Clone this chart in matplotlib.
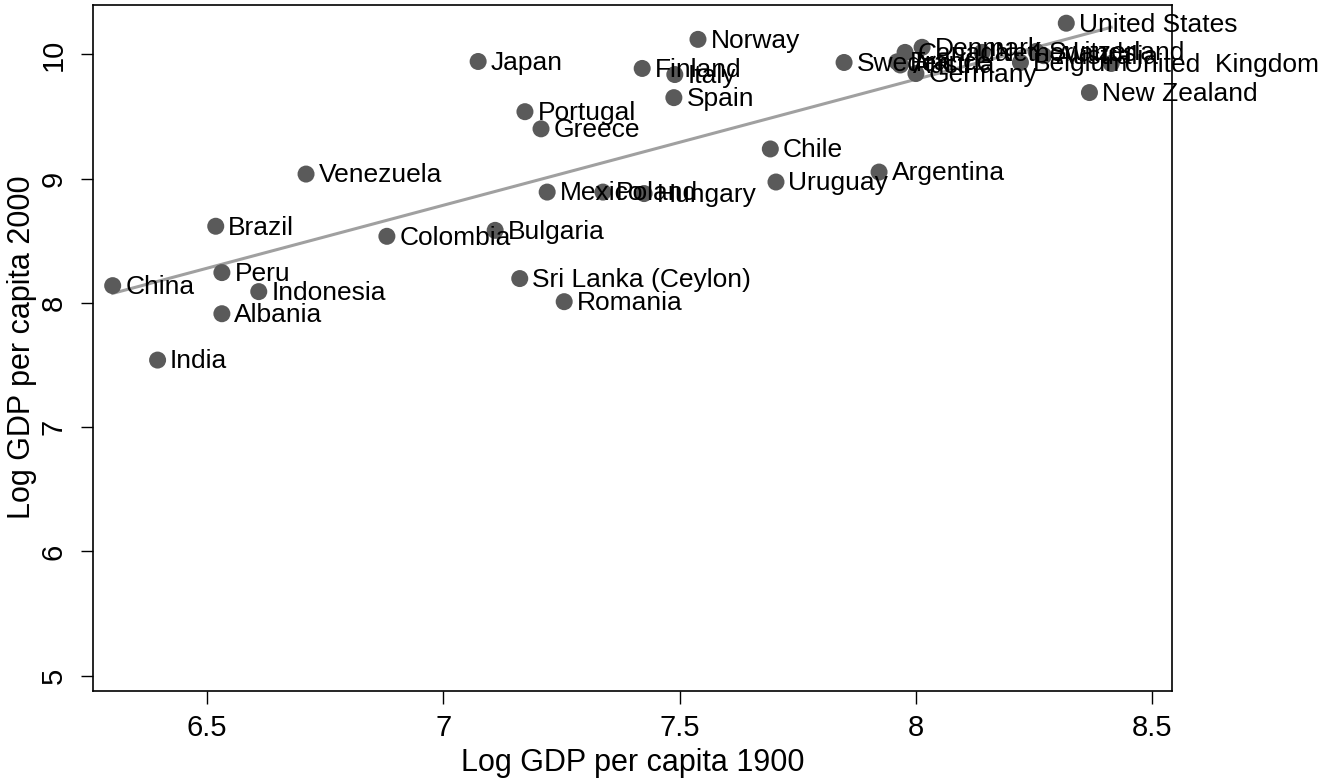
import numpy as np
import matplotlib
matplotlib.use("Agg")
import matplotlib.pyplot as plt

plt.rcParams['font.family'] = ['Liberation Sans', 'DejaVu Sans']

# country data (log GDP per capita)
countries = ["China", "India", "Albania", "Peru", "Indonesia", "Brazil",
             "Venezuela", "Colombia", "Bulgaria", "Sri Lanka (Ceylon)",
             "Romania", "Mexico", "Poland", "Hungary", "Portugal", "Greece",
             "Japan", "Finland", "Italy", "Spain", "Norway", "Chile",
             "Uruguay", "Argentina", "Sweden", "France", "Austria", "Canada",
             "Denmark", "Germany", "Netherlands", "Belgium", "Switzerland",
             "Australia", "United States", "United  Kingdom", "New Zealand"]
gdp1900 = [6.301, 6.396, 6.532, 6.532, 6.610, 6.519,
           6.710, 6.881, 7.110, 7.162,
           7.256, 7.220, 7.338, 7.425, 7.173, 7.207,
           7.074, 7.421, 7.490, 7.488, 7.539, 7.692,
           7.704, 7.922, 7.848, 7.960, 7.967, 7.977,
           8.013, 8.000, 8.140, 8.221, 8.254,
           8.270, 8.318, 8.413, 8.367]
gdp2000 = [8.139, 7.540, 7.913, 8.244, 8.091, 8.617,
           9.037, 8.536, 8.584, 8.196,
           8.010, 8.892, 8.892, 8.880, 9.539, 9.401,
           9.943, 9.887, 9.838, 9.652, 10.121, 9.239,
           8.973, 9.053, 9.935, 9.940, 9.915, 10.016,
           10.057, 9.846, 10.016, 9.935, 10.024,
           9.990, 10.251, 9.927, 9.693]

x = np.array(gdp1900)
y = np.array(gdp2000)

fig = plt.figure(figsize=(13.26, 7.83), dpi=100)
ax = fig.add_axes([0.070, 0.118, 0.814, 0.876])

# fitted line
b, a = np.polyfit(x, y, 1)
xs = np.array([x.min(), x.max()])
ax.plot(xs, a + b * xs, color="#a0a0a0", lw=2.2, zorder=2)

ax.scatter(x, y, s=150, color="#5a5a5a", edgecolors="none", zorder=3)
for name, xi, yi in zip(countries, x, y):
    ax.annotate(name, (xi, yi), xytext=(9, -1), textcoords="offset points",
                va="center", ha="left", fontsize=19, color="black",
                zorder=4, annotation_clip=False)

ax.set_xlim(6.259, 8.542)
ax.set_ylim(4.88, 10.40)
ax.set_xticks([6.5, 7, 7.5, 8, 8.5])
ax.set_xticklabels(["6.5", "7", "7.5", "8", "8.5"])
ax.set_yticks([5, 6, 7, 8, 9, 10])
ax.tick_params(axis="both", labelsize=21, length=9, width=1.0)
ax.tick_params(axis="x", pad=8)
ax.tick_params(axis="y", pad=9)
for lab in ax.get_yticklabels():
    lab.set_rotation(90)
    lab.set_va("center")
ax.set_xlabel("Log GDP per capita 1900", fontsize=22, labelpad=4)
ax.set_ylabel("Log GDP per capita 2000", fontsize=22, labelpad=2)
for sp in ax.spines.values():
    sp.set_linewidth(1.2)

fig.savefig("out.png", dpi=100)
